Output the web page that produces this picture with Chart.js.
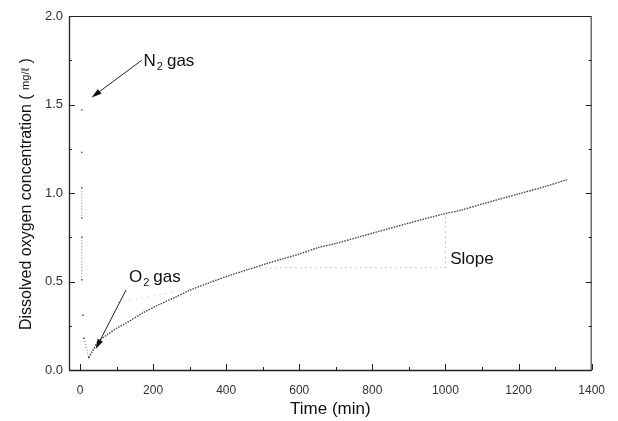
<!DOCTYPE html>
<html>
<head>
<meta charset="utf-8">
<script src="https://cdn.jsdelivr.net/npm/chart.js@4.4.0/dist/chart.umd.min.js"></script>
<style>
html, body { margin: 0; padding: 0; background: #fff; }
#wrap { width: 618px; height: 421px; }
</style>
</head>
<body>
<div id="wrap"><canvas id="doChart"></canvas></div>
<script>
// recovery after O2 gas (time in min, DO in mg/l)
const timeO2 = [24, 35, 50, 75, 100, 126, 170, 214, 260, 300, 350, 410, 456, 501, 550, 600, 650, 700, 769, 812, 900, 992, 1037, 1104, 1200, 1270, 1332];
const doO2 = [0.07, 0.11, 0.16, 0.20, 0.235, 0.265, 0.32, 0.367, 0.41, 0.45, 0.49, 0.535, 0.565, 0.595, 0.625, 0.655, 0.69, 0.715, 0.755, 0.78, 0.83, 0.88, 0.90, 0.94, 0.995, 1.035, 1.075];

// purge with N2 gas (null = gap in the trace)
const timeN2 = [5, 5, 5, 5, 5, 5, 5, 5, 5, 5, 8, 8, 11, 24];
const doN2 = [1.47, null, 1.23, null, 1.03, 0.86, null, 0.75, 0.51, null, 0.31, null, 0.18, 0.07];

// slope triangle and faint guide line
const slopeT = [480, 1000, 1000];
const slopeDO = [0.578, 0.578, 0.88];
const guideT = [105, 330];
const guideDO = [0.38, 0.47];

const xTicks = [0, 200, 400, 600, 800, 1000, 1200, 1400];
const yTicks = [0, 0.5, 1.0, 1.5, 2.0];

const FONT = '"Liberation Sans", Arial, sans-serif';
const toPoints = (xs, ys) => xs.map((t, i) => ({ x: t, y: ys[i] }));

// frame, inward ticks, arrows and labels
const decorations = {
  id: 'decorations',
  afterDraw(chart) {
    const { ctx, chartArea: a, scales: { x, y } } = chart;
    const seg = (x1, y1, x2, y2) => { ctx.beginPath(); ctx.moveTo(x1, y1); ctx.lineTo(x2, y2); ctx.stroke(); };
    ctx.save();
    ctx.strokeStyle = '#222';
    ctx.lineWidth = 1;
    ctx.strokeRect(a.left + 0.5, a.top + 0.5, a.right - a.left - 1, a.bottom - a.top);
    ctx.lineWidth = 1.3;
    seg(a.left + 0.5, a.top, a.left + 0.5, a.bottom);
    seg(a.left, a.bottom + 0.5, a.right, a.bottom + 0.5);
    ctx.lineWidth = 1;
    for (let v = 0; v <= 1400; v += 100) {
      const px = Math.round(x.getPixelForValue(v)) + 0.5;
      const len = v % 200 === 0 ? 6 : 3;
      seg(px, a.bottom, px, a.bottom - len);
    }
    for (let v = 0.25; v < 2; v += 0.25) {
      const py = Math.round(y.getPixelForValue(v)) + 0.5;
      const len = Math.abs(v * 2 - Math.round(v * 2)) < 0.01 ? 6 : 3;
      seg(a.left, py, a.left + len, py);
      seg(a.right, py, a.right - len, py);
    }

    const arrow = (t1, d1, t2, d2) => {
      const x1 = x.getPixelForValue(t1), y1 = y.getPixelForValue(d1);
      const x2 = x.getPixelForValue(t2), y2 = y.getPixelForValue(d2);
      const ang = Math.atan2(y2 - y1, x2 - x1);
      ctx.strokeStyle = '#222';
      ctx.lineWidth = 1;
      seg(x1, y1, x2 - 6 * Math.cos(ang), y2 - 6 * Math.sin(ang));
      ctx.fillStyle = '#111';
      ctx.beginPath();
      ctx.moveTo(x2, y2);
      ctx.lineTo(x2 - 10 * Math.cos(ang) + 3 * Math.sin(ang), y2 - 10 * Math.sin(ang) - 3 * Math.cos(ang));
      ctx.lineTo(x2 - 10 * Math.cos(ang) - 3 * Math.sin(ang), y2 - 10 * Math.sin(ang) + 3 * Math.cos(ang));
      ctx.closePath();
      ctx.fill();
    };
    arrow(169, 1.75, 32, 1.54);
    arrow(126, 0.452, 43, 0.119);

    const gasLabel = (sym, t, d, size) => {
      let px = x.getPixelForValue(t);
      const py = y.getPixelForValue(d);
      ctx.fillStyle = '#111';
      ctx.textBaseline = 'alphabetic';
      ctx.textAlign = 'left';
      ctx.font = size + 'px ' + FONT;
      ctx.fillText(sym, px, py);
      px += ctx.measureText(sym).width + 1;
      ctx.font = Math.round(size * 0.65) + 'px ' + FONT;
      ctx.fillText('2', px, py + 4);
      px += ctx.measureText('2').width + 4;
      ctx.font = size + 'px ' + FONT;
      ctx.fillText('gas', px, py);
    };
    gasLabel('N', 174, 1.717, 17);
    gasLabel('O', 134, 0.497, 17);

    ctx.font = '17px ' + FONT;
    ctx.fillStyle = '#111';
    ctx.fillText('Slope', x.getPixelForValue(1013), y.getPixelForValue(0.599));

    // y axis title with a smaller unit
    ctx.translate(27, 330);
    ctx.rotate(-Math.PI / 2);
    ctx.textBaseline = 'middle';
    let pos = 0;
    const parts = [['Dissolved oxygen concentration ( ', 16], ['mg/ℓ', 11], [' )', 16]];
    parts.forEach(([s, size]) => {
      ctx.font = size + 'px ' + FONT;
      ctx.fillText(s, pos, size < 16 ? -1 : 0);
      pos += ctx.measureText(s).width;
    });
    ctx.restore();
  }
};

new Chart(document.getElementById('doChart'), {
  type: 'scatter',
  data: {
    datasets: [
      {
        label: 'O2',
        data: toPoints(timeO2, doO2),
        showLine: true,
        borderColor: '#444',
        borderWidth: 1.4,
        borderDash: [1.5, 1.2],
        pointRadius: 0,
        tension: 0.3
      },
      {
        label: 'N2',
        data: toPoints(timeN2, doN2),
        showLine: true,
        spanGaps: false,
        borderColor: '#777',
        borderWidth: 1,
        borderDash: [1, 2],
        pointRadius: 0.9,
        pointBackgroundColor: '#666',
        pointBorderWidth: 0
      },
      {
        label: 'slope',
        data: toPoints(slopeT, slopeDO),
        showLine: true,
        borderColor: '#999',
        borderWidth: 1,
        borderDash: [1, 4],
        pointRadius: 0
      },
      {
        label: 'guide',
        data: toPoints(guideT, guideDO),
        showLine: true,
        borderColor: '#bbb',
        borderWidth: 1,
        borderDash: [1, 5],
        pointRadius: 0
      }
    ]
  },
  options: {
    responsive: true,
    maintainAspectRatio: false,
    animation: false,
    events: [],
    layout: { padding: { top: 16, right: 16, left: 0, bottom: 0 } },
    plugins: { legend: { display: false }, tooltip: { enabled: false } },
    scales: {
      x: {
        type: 'linear',
        min: -30,
        max: 1400,
        afterBuildTicks: s => { s.ticks = xTicks.map(v => ({ value: v })); },
        afterFit: s => { s.height = 51; },
        grid: { display: false, drawTicks: false },
        border: { display: false },
        ticks: { padding: 13, color: '#333', callback: v => String(v), font: { family: FONT, size: 12 } },
        title: {
          display: true,
          text: 'Time (min)',
          color: '#111',
          padding: { top: 4, bottom: 1 },
          font: { family: FONT, size: 17 }
        }
      },
      y: {
        min: 0,
        max: 2,
        afterBuildTicks: s => { s.ticks = yTicks.map(v => ({ value: v })); },
        afterFit: s => { s.width = 69; },
        grid: { display: false, drawTicks: false },
        border: { display: false },
        ticks: {
          padding: 6,
          color: '#333',
          callback: v => v.toFixed(1),
          font: { family: FONT, size: 13 }
        },
        title: { display: false }
      }
    }
  },
  plugins: [decorations]
});
</script>
</body>
</html>
